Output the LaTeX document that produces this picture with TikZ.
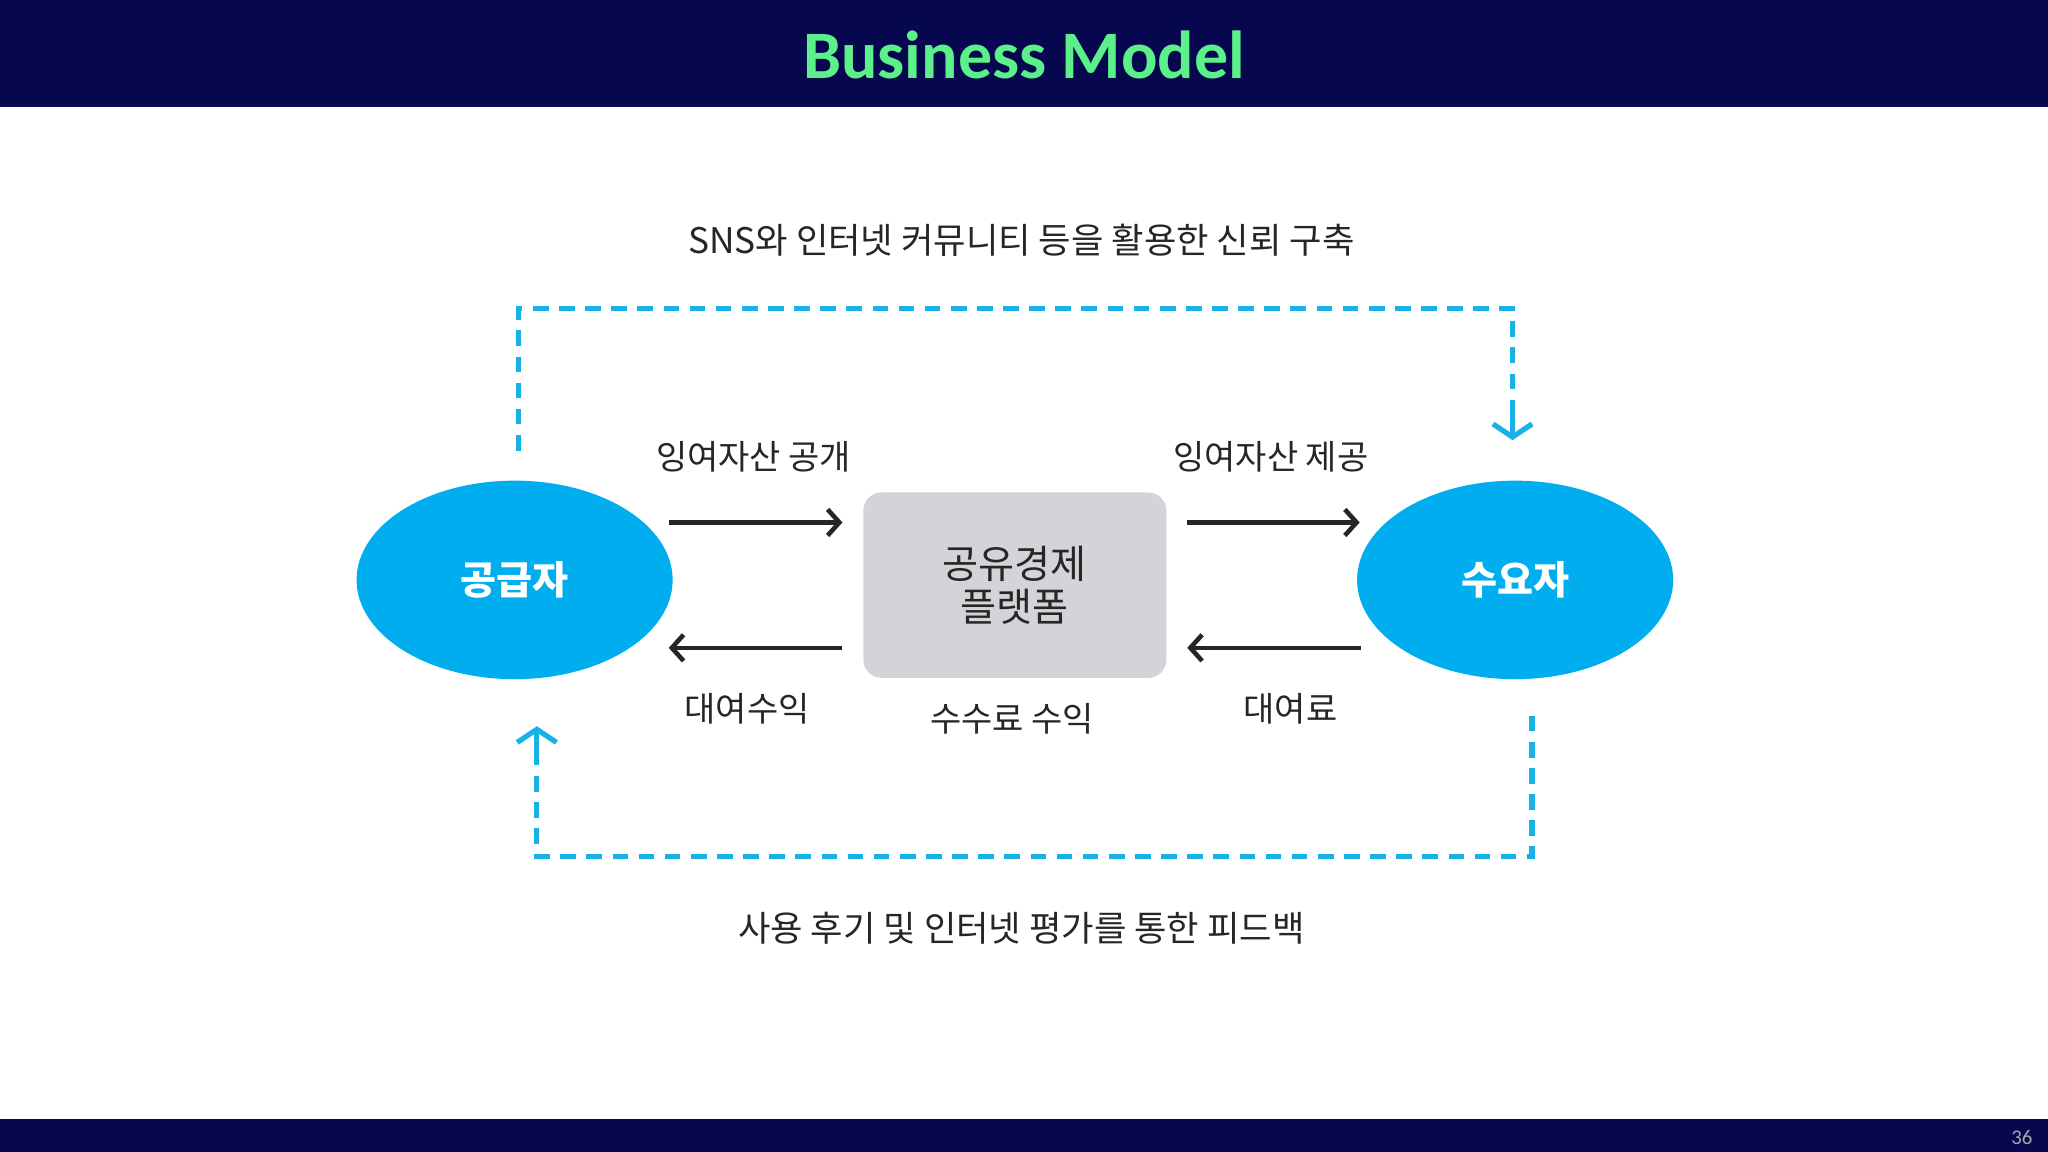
\documentclass[tikz,border=0pt]{standalone}
\usepackage{fontspec}
\setmainfont{Carlito}
\newfontfamily\kr{Noto Sans CJK KR}
\usetikzlibrary{arrows.meta,shapes.geometric}
\definecolor{navy}{HTML}{07074F}
\definecolor{tgreen}{HTML}{5CF08A}
\definecolor{sky}{HTML}{00AEEF}
\definecolor{dashc}{HTML}{1AB0E8}
\definecolor{plat}{HTML}{D4D4D8}
\begin{document}
\begin{tikzpicture}[x=1pt,y=-1pt,
  lbl/.style={font=\kr\fontsize{26}{29}\selectfont,text=black!85},
  ell/.style={ellipse,fill=sky,minimum width=242pt,minimum height=152pt,text=white,font=\kr\bfseries\fontsize{30}{34}\selectfont},
  blk/.style={-{Straight Barb[length=9pt,width=20pt]},line width=3.5pt,black!85},
  dsh/.style={draw=dashc,line width=4pt,dash pattern=on 12pt off 8pt},
  dhead/.style={draw=dashc,line width=4pt,-{Straight Barb[length=10pt,width=30pt]}}]
\useasboundingbox (0,0) rectangle (1568,882);
\fill[white] (0,0) rectangle (1568,882);
\fill[navy] (0,0) rectangle (1568,82);
\fill[navy] (0,857) rectangle (1568,882);
\node[font=\bfseries\fontsize{52}{56}\selectfont,text=tgreen] (title) at (784,42) {Business Model};
\node[font=\fontsize{16}{18}\selectfont,text=gray!70] (pg) at (1548,871) {36};
\node[lbl,font=\kr\fontsize{27}{30}\selectfont] (top) at (782,184) {SNS와 인터넷 커뮤니티 등을 활용한 신뢰 구축};
\node[lbl,font=\kr\fontsize{27}{30}\selectfont] (bot) at (782,711) {사용 후기 및 인터넷 평가를 통한 피드백};
\node[ell] (sup) at (394,444) {공급자};
\node[ell] (dem) at (1160,444) {수요자};
\node[fill=plat,rounded corners=14pt,minimum width=232pt,minimum height=142pt,align=center,font=\kr\fontsize{30}{33}\selectfont,text=black!85] (pf) at (777,448) {공유경제\\플랫폼};
\node[lbl] (l1) at (577,350) {잉여자산 공개};
\node[lbl] (l2) at (973,350) {잉여자산 제공};
\node[lbl] (l3) at (572,543) {대여수익};
\node[lbl] (l4) at (775,550) {수수료 수익};
\node[lbl] (l5) at (988,543) {대여료};
\coordinate (a1) at (512,400); \coordinate (a2) at (645,400);
\coordinate (b1) at (645,496); \coordinate (b2) at (512,496);
\coordinate (c1) at (909,400); \coordinate (c2) at (1041,400);
\coordinate (d1) at (1042,496); \coordinate (d2) at (909,496);
\draw[blk] (a1) -- (a2);
\draw[blk] (b1) -- (b2);
\draw[blk] (c1) -- (c2);
\draw[blk] (d1) -- (d2);
\coordinate (t1) at (397,345); \coordinate (t2) at (397,236);
\coordinate (t3) at (1158,236); \coordinate (t4) at (1158,337); \coordinate (t5) at (1158,318);
\draw[dsh] (t1) -- (t2) -- (t3) -- (t5);
\draw[dhead] (t5) -- (t4);
\coordinate (u1) at (1173,548); \coordinate (u2) at (1173,656);
\coordinate (u3) at (411,656); \coordinate (u4) at (411,556); \coordinate (u5) at (411,575);
\draw[dsh] (u1) -- (u2) -- (u3) -- (u5);
\draw[dhead] (u5) -- (u4);
\end{tikzpicture}
\end{document}
